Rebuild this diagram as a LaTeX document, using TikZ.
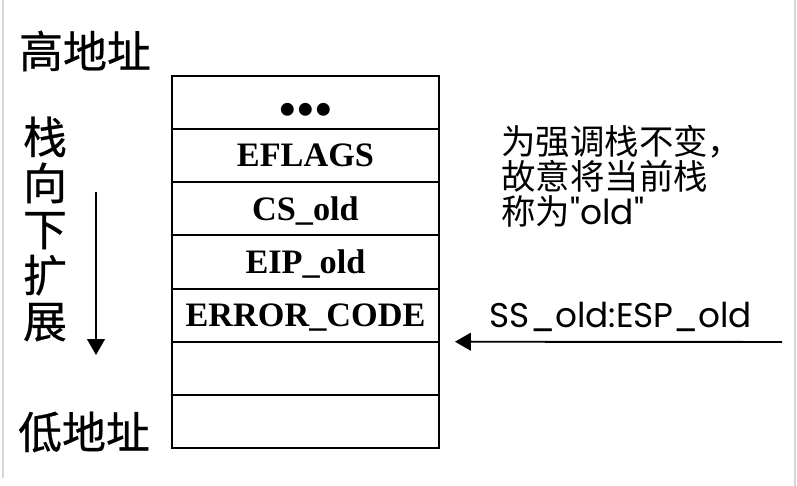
\documentclass[tikz,border=0pt]{standalone}
\usepackage{fontspec}
\setmainfont{Liberation Serif}
\newfontfamily\cjkfont{Noto Sans CJK SC}
\newfontfamily\cjkheavy[FakeBold=0.6]{Noto Sans CJK SC}
\newfontfamily\geofont{Poppins}
\usetikzlibrary{positioning, arrows.meta}
\definecolor{FrameGray}{RGB}{215,215,215}
\tikzset{
  cell/.style={draw, line width=1.1pt, outer sep=0pt, minimum width=5.34cm, minimum height=1.063cm,
    font=\fontsize{19.5}{19.5}\selectfont\bfseries, text height=12.8pt, text depth=0pt},
  addr/.style={font=\cjkheavy\fontsize{25}{26.2}\selectfont},
  ptr/.style={-{Triangle[width=10pt,length=9pt]}, line width=1.1pt},
}

\begin{document}
\begin{tikzpicture}[x=0.02cm, y=-0.02cm]
  \useasboundingbox (0,0) rectangle (797,486);
  % scan edges
  \draw[FrameGray, line width=0.6pt] (3,0) -- (3,478);
  \draw[FrameGray, line width=0.6pt] (795,0) -- (795,486);

  % stack cells
  \node[cell, anchor=north west] (dots) at (172,76)
    {\raisebox{-6.5pt}{\fontsize{27}{27}\selectfont •\hspace{0.03em}•\hspace{0.03em}•}};
  \node[cell, below=0pt of dots] (eflags) {EFLAGS};
  \node[cell, below=0pt of eflags] (cs) {CS\_old};
  \node[cell, below=0pt of cs] (eip) {EIP\_old};
  \node[cell, below=0pt of eip] (err) {ERROR\_CODE};
  \node[cell, below=0pt of err] (free1) {};
  \node[cell, below=0pt of free1] (free2) {};

  % addresses and growth direction
  \node[addr] (high) at (85,51) {高地址};
  \node[addr] (low) at (84,432) {低地址};
  \node[addr, align=center, inner sep=0pt] (grow) at (45,229) {栈\\向\\下\\扩\\展};
  \coordinate (growtop) at (96,192);
  \coordinate (growend) at (96,355);
  \draw[ptr] (growtop) -- (growend);

  % old stack pointer
  \node[anchor=north west, align=left, inner sep=0pt, font=\cjkfont\fontsize{19.6}{20}\selectfont] (note) at (501,125)
    {为强调栈不变，\\故意将当前栈\\称为{\geofont"old"}};
  \node[anchor=base, font=\geofont\fontsize{19.5}{20}\selectfont] (sp) at (621,327) {SS\_old:ESP\_old};
  \coordinate (sptail) at (782,342);
  \draw[ptr] (sptail) -- ([xshift=0.32cm]err.south east);
\end{tikzpicture}
\end{document}
